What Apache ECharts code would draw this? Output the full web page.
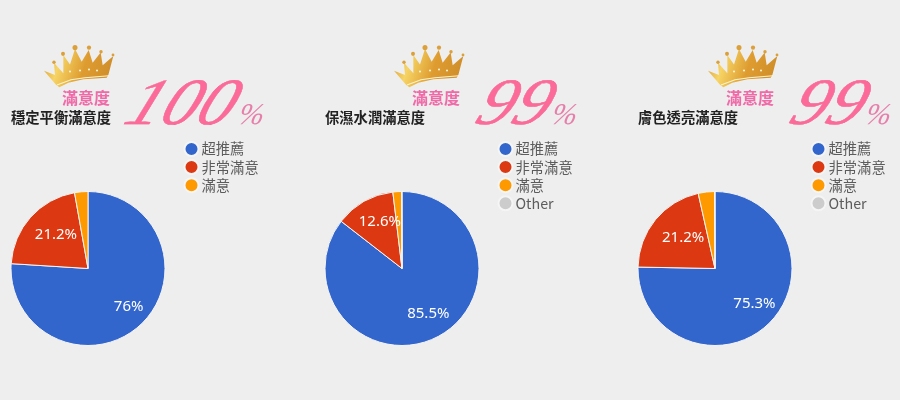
<!DOCTYPE html>
<html><head><meta charset="utf-8">
<style>html,body{margin:0;padding:0;background:#eeeeee}#c{width:900px;height:400px}</style>
<script src="https://cdn.jsdelivr.net/npm/echarts@6/dist/echarts.min.js"></script>
</head><body><div id="c"></div>
<script>
const categories = ['超推薦','非常滿意','滿意','Other'];
const colors = ['#3366cc','#dc3912','#ff9900','#cccccc'];
const titles = ['穩定平衡滿意度','保濕水潤滿意度','膚色透亮滿意度'];
const scores = ['100','99','99'];
const valuesA = [76, 21.2, 2.8];
const valuesB = [85.5, 12.6, 1.8, 0.1];
const valuesC = [75.3, 21.2, 3.4, 0.1];
const seriesValues = [valuesA, valuesB, valuesC];
const labelRadii = [[55,47],[53,51],[52,45]];
const centersX = [88, 402, 715];
const centerY = 268.5;
const legendLeft = [183.5, 497.5, 810.5];
const titleLeft = [11, 325, 638];
const pinkX = [86, 436, 750];
const crownDX = [0, 350, 664];
const scoreX = [115, 466, 780];
const pctX = [236, 549, 863];

const crownZoomPts = [[12,88],[45,100],[42,65],[70,95],[70,42],[90,70],[105,25],[125,62],[146,28],[158,65],[182,35],[188,72],[220,45],[205,100],[200,108],[130,112],[85,122],[58,135],[48,128]];
const crownPts = crownZoomPts.map(p=>[p[0]/3-3,p[1]/3-4]);
const crownDots = [[11,17,1.7],[20,9,2],[32,3,2.5],[46,3,2.1],[58,7,1.7],[70,10,1.4]];
const jewelDots = [[27,26],[37,25],[46,24],[54,25]];
const goldFill = new echarts.graphic.LinearGradient(0,0,1,0.6,[
  {offset:0,color:'#d99a35'},{offset:0.25,color:'#f6d465'},{offset:0.6,color:'#de9c30'},{offset:1,color:'#cf8d2a'}]);

function crown(dx){
  const children = [
    {type:'polygon',shape:{points:crownPts},style:{fill:goldFill}},
    {type:'polyline',shape:{points:[[14,39],[28,34],[42,32],[66,30]]},style:{stroke:'#fdf3d0',lineWidth:1,fill:null}},
  ];
  crownDots.forEach(d=>children.push({type:'circle',shape:{cx:d[0],cy:d[1],r:d[2]},style:{fill:'#dca03a'}}));
  jewelDots.forEach(d=>children.push({type:'circle',shape:{cx:d[0],cy:d[1],r:1},style:{fill:'#fff6dc'}}));
  return {type:'group',x:43+dx,y:44.5,scaleY:1.04,children};
}

const graphic = [];
scores.forEach((s,i)=>{
  graphic.push(crown(crownDX[i]));
  graphic.push({type:'text',x:pinkX[i],y:98,style:{text:'滿意度',fill:'#f06aa8',font:'bold 16px "Noto Sans CJK TC"',align:'center',verticalAlign:'middle'}});
  graphic.push({type:'text',x:scoreX[i],y:140,scaleX:1.08,skewX:-0.4,style:{text:s,fill:'#fb6a99',stroke:'#ff2f72',lineWidth:0.4,font:'italic 66px "Liberation Serif"',align:'left',verticalAlign:'bottom',letterSpacing:s==='100'?0:4}});
  graphic.push({type:'text',x:pctX[i],y:131,skewX:-0.2,style:{text:'%',fill:'#e680aa',font:'italic 30px "Liberation Serif"',align:'left',verticalAlign:'bottom'}});
});

function labelPos(si,di){
  const v=seriesValues[si];
  const before=v.slice(0,di).reduce((a,b)=>a+b,0);
  const total=v.reduce((a,b)=>a+b,0);
  const ang=(before+v[di]/2)/total*2*Math.PI;
  const r=labelRadii[si][di]||40;
  return {x:centersX[si]+r*Math.sin(ang)+3,y:centerY-r*Math.cos(ang)-2};
}

const option = {
  backgroundColor:'#eeeeee',
  animation:false,
  color:colors,
  title:titles.map((t,i)=>({text:t,left:titleLeft[i],top:109,padding:0,textStyle:{fontFamily:'"Noto Sans CJK TC"',fontSize:14.3,fontWeight:'bold',color:'#222222',lineHeight:18}})),
  legend:seriesValues.map((v,i)=>({
    orient:'vertical',left:legendLeft[i],top:141,padding:0,itemGap:2.1,itemWidth:14,itemHeight:14,icon:'circle',
    selectedMode:false,
    data:categories.slice(0,v.length),
    textStyle:{fontFamily:'"Noto Sans CJK TC","Noto Sans"',fontSize:14.3,color:'#5c5c5c',padding:[0,0,0,-2]}
  })),
  series:seriesValues.map((v,i)=>({
    type:'pie',center:[centersX[i],centerY],radius:[0,77],startAngle:90,clockwise:true,silent:true,
    itemStyle:{borderColor:'#f5f5f5',borderWidth:1},
    label:{position:'inside',formatter:'{c}%',color:'#ffffff',fontFamily:'"Noto Sans"',fontSize:15},
    labelLine:{show:false},
    labelLayout:(p)=>{
      const pos=labelPos(i,p.dataIndex);
      return {x:pos.x,y:pos.y,align:'center',verticalAlign:'middle'};
    },
    data:v.map((val,k)=>({name:categories[k],value:val,label:{show:val>=10}}))
  })),
  graphic
};
echarts.init(document.getElementById('c'),null,{renderer:'canvas'}).setOption(option);
</script></body></html>
